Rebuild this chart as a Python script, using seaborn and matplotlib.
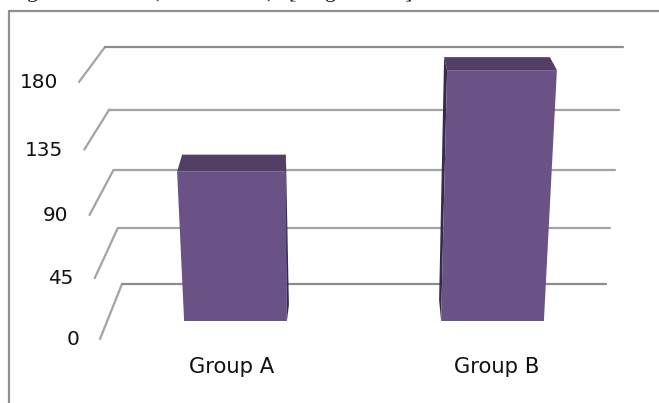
import matplotlib
matplotlib.use("Agg")
import matplotlib.pyplot as plt
from matplotlib.patches import Polygon
from matplotlib.transforms import Affine2D
import pandas as pd
import seaborn as sns

groups = ["Group A", "Group B"]
values = [103, 173]
tick_values = [0, 45, 90, 135, 180]

FRONT = "#6A5287"
TOP = "#533F66"
SIDE = "#352A50"
GRID = "#A3A3A3"
W, H = 659, 403


def wall_px(v):  # back wall height in px above the zero line, has perspective
    return 1.2167 * v + 0.000556 * v * v


def front_px(v):  # same thing for the front edge of the floor
    return 1.3278 * v + 0.000556 * v * v


sns.set_theme(style="white")
plt.rcParams["font.family"] = ["DejaVu Sans"]

fig = plt.figure(figsize=(W / 100, H / 100), dpi=100)
ax = fig.add_axes([0, 0, 1, 1])
df = pd.DataFrame({"group": groups, "value": values})
sns.barplot(data=df, x="group", y="value", color=FRONT, saturation=1, width=0.4, ax=ax)

# 257 px between the bars, 1.45 px per unit at the front of the bars
ax.set_xlim(-235.5 / 257, (W - 235.5) / 257)
ax.set_ylim(-(H - 321) / 1.45, 321 / 1.45)
ax.axis("off")

# everything below is placed in image pixels, y going down
px = Affine2D().scale(1, -1).translate(0, H)

# outer frame
ax.plot([9, 9, W], [H, 11, 11], color="#8F8F8F", lw=1.6, transform=px, clip_on=False)

# walls and gridlines
for v in tick_values:
    back_y = 284 - wall_px(v)
    front_y = 339 - front_px(v)
    x_left = 122 - v * 17 / 180
    x_right = 606 + v * 17 / 180
    x_front = 100 - v * 21 / 180
    col = "#8C8C8C" if v in (0, 180) else GRID
    ax.plot([x_front, x_left], [front_y, back_y], color=GRID, lw=1.6, transform=px, zorder=1)
    ax.plot([x_left, x_right], [back_y, back_y], color=col, lw=1.6, transform=px, zorder=1)
    ax.text(x_front - 21, front_y + 0.5, str(v), ha="right", va="center", fontsize=14.4,
            color="#111111", transform=px)

# turn the flat bars into the 3d looking boxes
# offsets: top left lean, top right lean, depth, back left, back right
shapes = [(-7, -1, 17, -1, -1), (6, 13, 13, -9, 0)]
for patch, (lean_l, lean_r, depth, back_l, back_r) in zip(ax.patches, shapes):
    (x0, y0), (x1, y1) = ax.transData.transform(patch.get_bbox().get_points())
    y0, y1 = H - y0, H - y1
    patch.set_visible(False)
    front = [(x0, y0), (x0 + lean_l, y1), (x1 + lean_r, y1), (x1, y0)]
    top = [(x0 + lean_l, y1), (x0 + lean_l + 6 + back_l, y1 - depth),
           (x1 + lean_r - 1 - back_r - (6 if lean_r > 0 else 0), y1 - depth), (x1 + lean_r, y1)]
    if lean_l < 0:  # side shows on the right
        side = [(x1 - 2, y1), (x1 - 1, y1 - depth), (x1 + 2, y0 - 16), (x1, y0)]
    else:  # side shows on the left
        side = [(x0 + lean_l, y1), (x0 + lean_l - 3, y1 - depth), (x0 - 2, y0 - 21), (x0, y0)]
    ax.add_patch(Polygon(side, color=SIDE, lw=0, transform=px, zorder=3))
    ax.add_patch(Polygon(top, color=TOP, lw=0, transform=px, zorder=3))
    ax.add_patch(Polygon(front, color=FRONT, lw=0, transform=px, zorder=4))

# group labels
for name, x in zip(groups, [232, 497]):
    ax.text(x, 367, name, ha="center", va="center", fontsize=15.2, color="#111111", transform=px)

# title line is cut off by the image edge, only these bits are readable
for ch, x in zip(["g", "(", ")", "[", "g", "]"], [33, 156, 270, 292, 331, 408]):
    ax.text(x, -2.5, ch, ha="center", va="baseline", fontsize=16, family="Liberation Serif",
            color="#111111", transform=px, clip_on=False)

fig.savefig("out.png", dpi=100, facecolor="white")
